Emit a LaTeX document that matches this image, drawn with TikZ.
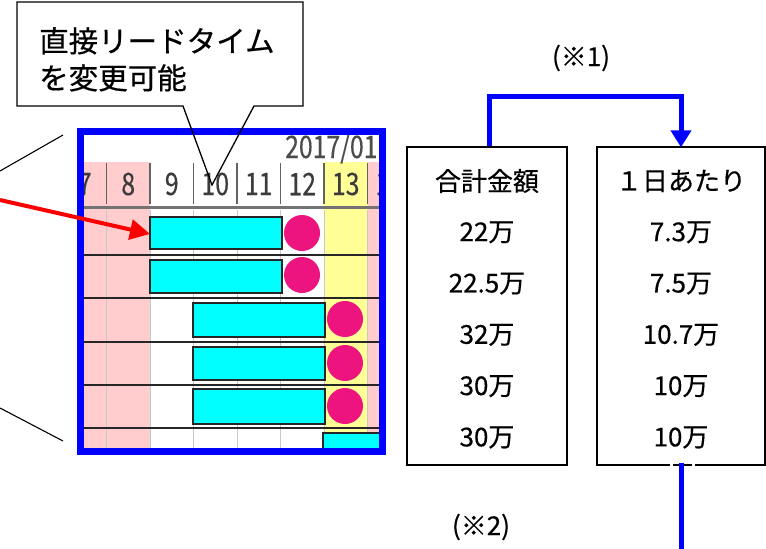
\documentclass[tikz,border=0pt]{standalone}
\usepackage{fontspec}
\setmainfont{Noto Sans CJK JP}[FakeBold=0.5]
\newfontfamily\narrowfont{Noto Sans CJK JP}[FakeStretch=0.8,FakeBold=0.3]
\usetikzlibrary{arrows.meta}
\definecolor{pinkc}{RGB}{255,205,205}
\definecolor{yellowc}{RGB}{255,255,150}
\definecolor{cyanc}{RGB}{0,255,255}
\definecolor{magc}{RGB}{238,20,128}
\definecolor{blueC}{RGB}{0,0,255}
\definecolor{redC}{RGB}{250,0,0}
\definecolor{gridc}{RGB}{200,200,200}
\definecolor{datec}{RGB}{60,60,60}
\begin{document}
\begin{tikzpicture}[x=1pt,y=-1pt,
  bar/.style={fill=cyanc,draw=black!85,line width=1.2pt},
  dot/.style={fill=magc,draw=none},
  datelbl/.style={font=\narrowfont\fontsize{31}{31}\selectfont,text=datec,inner sep=0pt},
  valbox/.style={draw=black,line width=1.4pt,minimum width=160pt,minimum height=318pt,inner sep=0pt},
  val/.style={font=\fontsize{26}{26}\selectfont,inner sep=0pt},
  note/.style={font=\fontsize{26}{26}\selectfont,inner sep=0pt},
  bluecon/.style={draw=blueC,line width=5pt},
  thin/.style={draw=black,line width=1.1pt}]
\useasboundingbox (0,0) rectangle (766,549);

% ---- chart (clipped) ----
\begin{scope}
\clip (83,135) rectangle (380,448);
\fill[white] (83,135) rectangle (380,448);
\foreach \k/\c in {7/pinkc,8/pinkc,9/white,10/white,11/white,12/white,13/yellowc,14/pinkc}{
  \pgfmathsetmacro{\xl}{150+(\k-9)*43.5}
  \fill[\c] (\xl,162) rectangle ({\xl+43.5},448);
}
\foreach \k in {7,...,14}{
  \pgfmathsetmacro{\xl}{150+(\k-9)*43.5}
  \draw[gridc,line width=1pt] (\xl,210) -- (\xl,448);
  \draw[datec!80,line width=1.3pt] (\xl,163) -- (\xl,204);
}
\draw[black!55,line width=3pt] (83,207) -- (380,207);
\foreach \y in {255,298,342,385,428}{
  \draw[black!85,line width=1.2pt] (83,\y) -- (380,\y);
}
\foreach \k in {7,...,14}{
  \node[datelbl] (d\k) at ({150+(\k-9)*43.5+21.75},184) {\k};
}
\node[datelbl,anchor=base west,text=black!70] (yr) at (285,158) {2017/01};
\draw[bar] (150,217) rectangle (282,249);
\draw[bar] (150,260) rectangle (282,293);
\draw[bar] (193,303) rectangle (325,337);
\draw[bar] (193,347) rectangle (325,380);
\draw[bar] (193,389) rectangle (325,424);
\draw[bar] (323,433) rectangle (395,455);
\fill[dot] (302,233) circle (18);
\fill[dot] (302,275) circle (18);
\fill[dot] (345,319) circle (18);
\fill[dot] (345,363) circle (18);
\fill[dot] (345,406) circle (18);
\end{scope}

\draw[draw=blueC,line width=6.5pt] (80.5,131.5) rectangle (382.5,451.5);

\coordinate (zl1) at (0,171);
\coordinate (zl2) at (63,135);
\coordinate (zl3) at (0,408);
\coordinate (zl4) at (63,441);
\draw[thin] (zl1) -- (zl2);
\draw[thin] (zl3) -- (zl4);

\coordinate (ra) at (0,200);
\coordinate (rb) at (150,234);
\draw[redC,line width=4pt,-{Triangle[length=20pt,width=20pt]}] (ra) -- (rb);

\fill[white] (17,2) rectangle (303,106);
\draw[black,line width=1.3pt,line join=miter] (183,106) -- (17,106) -- (17,2) -- (303,2) -- (303,106) -- (254,106) -- (212,185) -- cycle;
\node[anchor=north west,align=left,inner sep=0pt,font=\fontsize{29.5}{37}\selectfont] (callout) at (39,27) {直接リードタイム\\を変更可能};

\node[valbox] (sum) at (487,306) {};
\node[valbox,minimum width=168pt] (perday) at (681,306) {};
\foreach \i/\a/\b in {0/合計金額/１日あたり,1/22万/7.3万,2/22.5万/7.5万,3/32万/10.7万,4/30万/10万,5/30万/10万}{
  \node[val] (s\i) at (487,{181+\i*51.3}) {\a};
  \node[val] (p\i) at (681,{181+\i*51.3}) {\b};
}
\draw[bluecon,-{Triangle[length=17pt,width=20pt]}] ([xshift=2pt]sum.north) -- ++(0,-50) -| ([yshift=-1pt]perday.north);
\draw[white,line width=2pt] (670,465) -- (673,465) (692,465) -- (695,465);
\coordinate (bend) at (681,549);
\draw[bluecon] ([yshift=3pt]perday.south) -- (bend);

\node[note] (n1) at (581,58) {(※1)};
\node[note] (n2) at (481,527) {(※2)};
\end{tikzpicture}
\end{document}
